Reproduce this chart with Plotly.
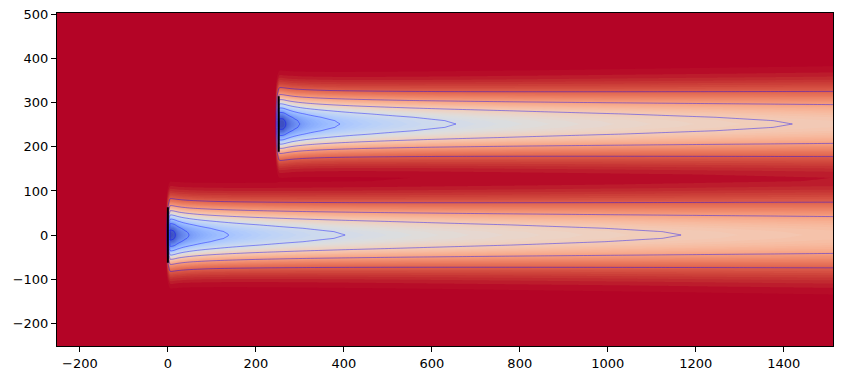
import numpy as np
import plotly.graph_objects as go

# ---- data ----
turbine_x = [0.0, 252.0]          # m
turbine_y = [0.0, 252.0]          # m
rotor_diameter = 126.0            # m
freestream_speed = 8.0            # m/s

# wake parameters (fitted to the contour positions in the picture)
sigma_0 = 41.1        # initial wake width (m)
k_y = 0.0074          # wake expansion rate
c_ref = 6.0           # centre-line deficit (m/s) at x_ref downstream
x_ref = 48.0          # m
c_decay = 0.94        # log-decay of centre-line deficit
c_max = 7.3           # maximum deficit (m/s)

x_bounds = [-252.0, 1512.0]
y_bounds = [-252.0, 504.0]
x_resolution = 200
y_resolution = 100

line_levels = [1.0, 2.0, 3.0, 4.0, 5.0, 6.0, 7.0]
x_ticks = [-200, 0, 200, 400, 600, 800, 1000, 1200, 1400]
y_ticks = [-200, -100, 0, 100, 200, 300, 400, 500]

# matplotlib "coolwarm" (Moreland) anchor colours
coolwarm_rgb = [
    (59, 76, 192), (68, 90, 204), (77, 104, 215), (87, 117, 225), (98, 130, 234),
    (108, 142, 241), (119, 154, 247), (130, 165, 251), (141, 176, 254), (152, 185, 255),
    (163, 194, 255), (174, 201, 253), (184, 208, 249), (194, 213, 244), (204, 217, 238),
    (213, 219, 230), (221, 221, 221), (229, 216, 209), (236, 211, 197), (241, 204, 185),
    (245, 196, 173), (247, 187, 160), (247, 177, 148), (247, 166, 135), (244, 154, 123),
    (241, 141, 111), (236, 127, 99), (229, 112, 88), (222, 96, 77), (213, 80, 66),
    (203, 62, 56), (192, 40, 47), (180, 4, 38),
]
coolwarm = [[i / (len(coolwarm_rgb) - 1), "rgb(%d,%d,%d)" % c] for i, c in enumerate(coolwarm_rgb)]

# ---- flow field ----
xs = np.linspace(x_bounds[0], x_bounds[1], x_resolution)
ys = np.linspace(y_bounds[0], y_bounds[1], y_resolution)
X, Y = np.meshgrid(xs, ys)
sq = np.zeros_like(X)
for tx, ty in zip(turbine_x, turbine_y):
    dx = X - tx
    down = dx >= 0
    dxp = np.maximum(dx, 1e-3)
    sig = sigma_0 + k_y * dxp
    c = np.minimum(c_max, c_ref - c_decay * np.log(dxp / x_ref))
    c = np.maximum(c, 0)
    d = c * np.exp(-((Y - ty) ** 2) / (2 * sig ** 2)) * down
    sq += d ** 2
U = freestream_speed - np.sqrt(sq)
zmin = float(U.min())
zmax = freestream_speed

fig = go.Figure()
fig.add_trace(go.Contour(
    x=xs, y=ys, z=U,
    colorscale=coolwarm, zmin=zmin, zmax=zmax, zauto=False,
    contours=dict(coloring="fill", start=zmin, end=zmax - 0.1, size=0.1, showlines=False),
    line=dict(width=0), showscale=False, hoverinfo="skip",
))
fig.add_trace(go.Contour(
    x=xs, y=ys, z=U,
    contours=dict(coloring="none", start=line_levels[0], end=line_levels[-1], size=1.0),
    line=dict(color="rgba(0,0,255,0.4)", width=1.0),
    showscale=False, hoverinfo="skip",
))
for tx, ty in zip(turbine_x, turbine_y):
    fig.add_trace(go.Scatter(
        x=[tx, tx], y=[ty - rotor_diameter / 2, ty + rotor_diameter / 2],
        mode="lines", line=dict(color="black", width=2), showlegend=False, hoverinfo="skip",
    ))

axis_common = dict(
    showgrid=False, zeroline=False, showline=True, mirror=True, linecolor="black", linewidth=1,
    ticks="outside", ticklen=5, tickwidth=1, tickcolor="black", automargin=False,
    tickfont=dict(family="DejaVu Sans", size=13, color="black"),
)
fig.update_layout(
    width=842, height=379,
    margin=dict(l=57, r=9, t=13, b=33),
    paper_bgcolor="white", plot_bgcolor="white",
    showlegend=False,
    xaxis=dict(range=x_bounds, tickvals=x_ticks,
               ticktext=[str(v).replace("-", "\u2212") for v in x_ticks], **axis_common),
    yaxis=dict(range=y_bounds, tickvals=y_ticks,
               ticktext=[str(v).replace("-", "\u2212") for v in y_ticks], **axis_common),
)
fig.write_html("out.html", config={"displayModeBar": False},
               post_script="document.body.style.margin='0';")
